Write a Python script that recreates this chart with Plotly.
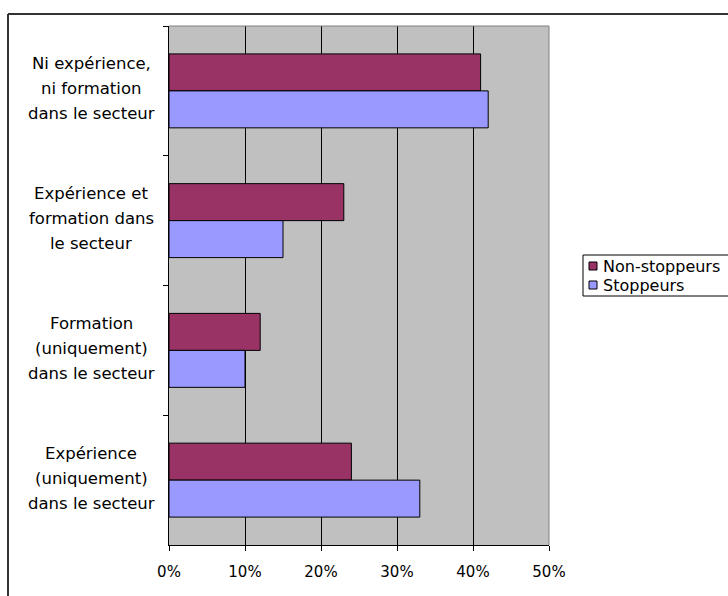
import plotly.graph_objects as go

# Survey categories (top to bottom) and shares per group
categories = [
    "Ni expérience,<br>ni formation<br>dans le secteur",
    "Expérience et<br>formation dans<br>le secteur",
    "Formation<br>(uniquement)<br>dans le secteur",
    "Expérience<br>(uniquement)<br>dans le secteur",
]
non_stoppeurs = [0.41, 0.23, 0.12, 0.24]
stoppeurs = [0.42, 0.15, 0.10, 0.33]
series_names = ["Non-stoppeurs", "Stoppeurs"]
tick_values = [0, 0.1, 0.2, 0.3, 0.4, 0.5]
tick_labels = ["0%", "10%", "20%", "30%", "40%", "50%"]

colors = ["#993366", "#9999FF"]
FONT = "DejaVu Sans"

W, H = 728, 596
M_L, M_R, M_T, M_B = 169, 179, 26, 51
PW, PH = W - M_L - M_R, H - M_T - M_B


def px_x(px):
    return (px - M_L) / PW


def px_y(py):
    return (H - M_B - py) / PH


fig = go.Figure()
for name, vals, col in zip(series_names, [non_stoppeurs, stoppeurs], colors):
    fig.add_trace(go.Bar(
        y=categories, x=vals, name=name, orientation="h",
        marker=dict(color=col, line=dict(color="#000000", width=1)),
        showlegend=False,
    ))

shapes = [
    # grey frame of the plot area (top and right)
    dict(type="line", xref="paper", yref="paper", x0=0, x1=1, y0=1, y1=1,
         line=dict(color="#808080", width=1), layer="above"),
    dict(type="line", xref="paper", yref="paper", x0=1, x1=1, y0=0, y1=1,
         line=dict(color="#808080", width=1), layer="above"),
    # outer chart frame
    dict(type="line", xref="paper", yref="paper", x0=px_x(8), x1=px_x(760),
         y0=px_y(14), y1=px_y(14), line=dict(color="#333333", width=2)),
    dict(type="line", xref="paper", yref="paper", x0=px_x(8), x1=px_x(8),
         y0=px_y(14), y1=px_y(620), line=dict(color="#333333", width=2)),
    # legend box
    dict(type="rect", xref="paper", yref="paper", x0=px_x(583), x1=px_x(760),
         y0=px_y(255), y1=px_y(296), line=dict(color="#000000", width=1),
         fillcolor="#FFFFFF"),
]

annotations = []
# legend entries
for i, (name, col) in enumerate(zip(series_names, colors)):
    cy = 266 + i * 19
    shapes.append(dict(type="rect", xref="paper", yref="paper",
                       x0=px_x(589), x1=px_x(597), y0=px_y(cy + 4), y1=px_y(cy - 4),
                       fillcolor=col, line=dict(color="#000000", width=1)))
    annotations.append(dict(xref="paper", yref="paper", x=px_x(601), y=px_y(cy),
                            text=name, showarrow=False, xanchor="left", yanchor="middle",
                            font=dict(family=FONT, size=16, color="#000000")))

# multi-line category labels with wide line spacing
for cat in categories:
    lines = cat.split("<br>")
    n = len(lines)
    for j, line in enumerate(lines):
        annotations.append(dict(xref="paper", yref="y", x=px_x(91), y=cat,
                                text=line, showarrow=False, xanchor="center",
                                yanchor="middle",
                                yshift=2 + ((n - 1) / 2 - j) * 25,
                                font=dict(family=FONT, size=16.5, color="#000000")))

fig.update_layout(
    width=W, height=H,
    margin=dict(l=M_L, r=M_R, t=M_T, b=M_B),
    paper_bgcolor="#FFFFFF",
    plot_bgcolor="#C0C0C0",
    barmode="group",
    bargap=0.43,
    bargroupgap=0,
    showlegend=False,
    shapes=shapes,
    annotations=annotations,
    xaxis=dict(
        range=[0, 0.5], tickvals=tick_values, ticktext=tick_labels,
        ticks="outside", ticklen=5, tickcolor="#000000", tickwidth=1,
        showline=True, linecolor="#000000", linewidth=1,
        showgrid=True, gridcolor="#000000", gridwidth=1, zeroline=False,
        ticklabelstandoff=8,
        tickfont=dict(family=FONT, size=15, color="#000000"),
        fixedrange=True,
    ),
    yaxis=dict(
        autorange="reversed", showticklabels=False,
        ticks="outside", ticklen=5, tickcolor="#000000", tickwidth=1,
        tickson="boundaries",
        showline=True, linecolor="#000000", linewidth=1,
        showgrid=False, zeroline=False, fixedrange=True,
    ),
)

fig.write_html("out.html", config={"displayModeBar": False})
